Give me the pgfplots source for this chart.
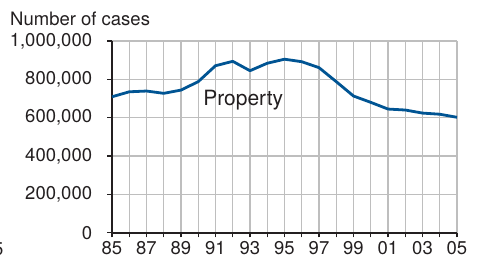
\documentclass[border=0pt]{standalone}
\usepackage{pgfplots}
\pgfplotsset{compat=1.18}
\usepackage{fontspec}
\setmainfont{TeX Gyre Heros}
\definecolor{txt}{RGB}{35,31,32}
\definecolor{line}{RGB}{0,84,147}
\definecolor{grd}{RGB}{190,190,190}
\begin{document}
\fontsize{18.5pt}{22pt}\selectfont
\begin{tikzpicture}[x=1pt,y=1pt]
\useasboundingbox (0,0) rectangle (480,258);
\begin{axis}[
  at={(112pt,25.3pt)}, anchor=south west,
  scale only axis, width=345pt, height=191.7pt,
  xmin=85, xmax=105, ymin=0, ymax=1000000,
  axis x line*=bottom, axis y line*=left,
  axis line style={txt, line width=1.6pt, -},
  xtick={85,86,...,105},
  xticklabels={85,,87,,89,,91,,93,,95,,97,,99,,01,,03,,05},
  ytick={0,200000,400000,600000,800000,1000000},
  yticklabels={0,{200,000},{400,000},{600,000},{800,000},{1,000,000}},
  scaled y ticks=false,
  tick align=outside, tick pos=left,
  major tick length=4.7pt,
  tick style={txt, line width=1.2pt},
  grid=major, grid style={grd, line width=1.3pt},
  ticklabel style={font=\fontsize{18.5pt}{22pt}\selectfont, text=txt},
  yticklabel style={inner sep=0pt, xshift=-15pt},
  xticklabel style={inner sep=0pt, yshift=-3.5pt},
  clip=false,
]
\addplot[line, line width=2.8pt, line join=round] coordinates {
(85,709000) (86,735000) (87,739000) (88,727000) (89,744000) (90,788000)
(91,871000) (92,894000) (93,845000) (94,884000) (95,905000) (96,892000)
(97,861000) (98,788000) (99,713000) (100,680000) (101,645000) (102,640000)
(103,624000) (104,618000) (105,602000)
};
\node[anchor=base west, inner sep=0pt, text=txt, font=\fontsize{21pt}{24pt}\selectfont] at (axis cs:90.28,666000) {Property};
\end{axis}
\node[anchor=base west, inner sep=0pt, text=txt] at (10,233) {Number of cases};
\node[anchor=base east, inner sep=0pt, text=txt] at (3.5,3) {5};
\end{tikzpicture}
\end{document}
